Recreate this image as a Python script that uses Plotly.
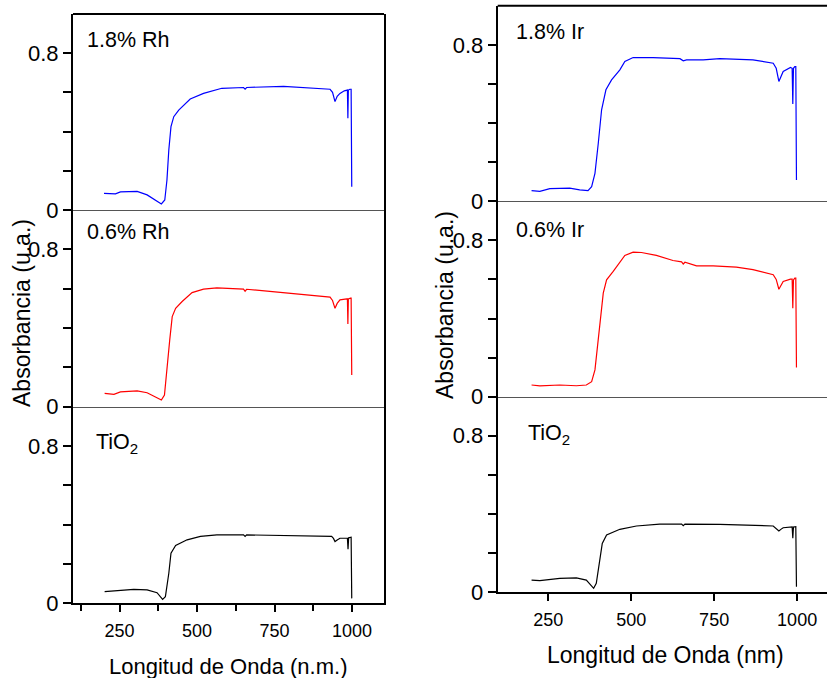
import plotly.graph_objects as go

# ---------------- data ----------------
rh18_wl = [200, 237, 253, 307, 339, 371, 385, 396, 403, 409, 416, 425, 441, 478, 521, 580, 650, 655, 660,
           779, 929, 937, 945, 952, 961, 975, 983, 985, 986.5, 988, 993, 997, 999]
rh18_ab = [0.085, 0.082, 0.092, 0.095, 0.077, 0.042, 0.031, 0.051, 0.153, 0.306, 0.425, 0.476, 0.51, 0.566,
           0.595, 0.621, 0.625, 0.617, 0.625, 0.631, 0.616, 0.60, 0.553, 0.58, 0.595, 0.608, 0.612, 0.612,
           0.468, 0.612, 0.616, 0.616, 0.119]

rh06_wl = [202, 232, 253, 307, 339, 371, 385, 395, 403, 412, 420, 431, 452, 484, 521, 564, 650, 655, 660,
           725, 832, 929, 937, 945, 952, 961, 983, 985, 986.5, 988, 995, 997, 999]
rh06_ab = [0.068, 0.063, 0.075, 0.08, 0.071, 0.048, 0.034, 0.059, 0.204, 0.34, 0.458, 0.50, 0.535, 0.58,
           0.598, 0.604, 0.598, 0.587, 0.597, 0.587, 0.574, 0.557, 0.54, 0.50, 0.525, 0.543, 0.548, 0.548,
           0.42, 0.548, 0.552, 0.552, 0.161]

tio2l_wl = [202, 232, 296, 339, 371, 389, 398, 409, 416, 431, 468, 511, 564, 650, 655, 660, 779, 934, 940,
            945, 952, 961, 985, 987, 989, 995, 997, 999]
tio2l_ab = [0.059, 0.063, 0.071, 0.068, 0.054, 0.020, 0.034, 0.153, 0.255, 0.294, 0.323, 0.34, 0.348, 0.348,
            0.340, 0.348, 0.345, 0.34, 0.33, 0.314, 0.322, 0.331, 0.331, 0.275, 0.333, 0.336, 0.336, 0.025]

ir18_wl = [200, 225, 255, 315, 345, 370, 381, 391, 401, 411, 424, 441, 466, 481, 506, 566, 647, 657, 667,
           717, 767, 867, 928, 937, 945, 952, 958, 980, 985, 987, 989, 993, 996, 998]
ir18_ab = [0.055, 0.051, 0.065, 0.067, 0.058, 0.055, 0.075, 0.143, 0.297, 0.468, 0.57, 0.621, 0.672, 0.715,
           0.735, 0.735, 0.729, 0.718, 0.723, 0.723, 0.729, 0.723, 0.706, 0.68, 0.613, 0.645, 0.664, 0.684,
           0.68, 0.498, 0.68, 0.689, 0.689, 0.109]

ir06_wl = [200, 225, 285, 335, 365, 381, 391, 406, 416, 426, 446, 481, 506, 531, 576, 626, 652, 657, 662,
           697, 747, 817, 867, 928, 937, 945, 952, 958, 980, 985, 987, 989, 993, 996, 998]
ir06_ab = [0.06, 0.055, 0.06, 0.056, 0.06, 0.077, 0.137, 0.376, 0.53, 0.598, 0.641, 0.723, 0.74, 0.738,
           0.723, 0.697, 0.69, 0.679, 0.688, 0.67, 0.67, 0.663, 0.65, 0.624, 0.60, 0.55, 0.575, 0.59, 0.602,
           0.602, 0.453, 0.598, 0.607, 0.607, 0.15]

tio2r_wl = [200, 225, 285, 335, 365, 377, 387, 395, 405, 413, 426, 466, 516, 586, 652, 657, 662, 767, 928,
            937, 945, 952, 958, 985, 987, 989, 993, 996, 998]
tio2r_ab = [0.061, 0.058, 0.07, 0.072, 0.061, 0.039, 0.019, 0.044, 0.164, 0.249, 0.292, 0.321, 0.338, 0.348,
            0.348, 0.34, 0.348, 0.346, 0.338, 0.325, 0.312, 0.322, 0.329, 0.333, 0.275, 0.333, 0.334, 0.334,
            0.027]

for a, b in [(rh18_wl, rh18_ab), (rh06_wl, rh06_ab), (tio2l_wl, tio2l_ab),
             (ir18_wl, ir18_ab), (ir06_wl, ir06_ab), (tio2r_wl, tio2r_ab)]:
    assert len(a) == len(b), (len(a), len(b))

y_tickvals = [0, 0.8]
y_ticktext = ["0", "0.8"]
y_minor = [0.2, 0.4, 0.6]
x_tickvals = [250, 500, 750, 1000]
x_minor_left = [125, 375, 625, 875]

panel_labels_left = ["1.8% Rh", "0.6% Rh", "TiO<sub>2</sub>"]
panel_labels_right = ["1.8% Ir", "0.6% Ir", "TiO<sub>2</sub>"]

# ---------------- layout geometry ----------------
W, H = 827, 678
FONT = "Liberation Sans, Arial, sans-serif"


def px(x):
    return x / W


def py(y):
    return 1 - y / H


left_x = [px(73), px(384)]
right_x = [px(497.7), 1.0]
left_y = [(14, 210), (210, 406.7), (406.7, 603.3)]
right_y = [(5.7, 201.3), (201.3, 396.7), (396.7, 592)]

fig = go.Figure()

series = [
    (rh18_wl, rh18_ab, "#0000ff"),
    (rh06_wl, rh06_ab, "#ff0000"),
    (tio2l_wl, tio2l_ab, "#000000"),
    (ir18_wl, ir18_ab, "#0000ff"),
    (ir06_wl, ir06_ab, "#ff0000"),
    (tio2r_wl, tio2r_ab, "#000000"),
]
for i, (wl, ab, col) in enumerate(series):
    k = "" if i == 0 else str(i + 1)
    fig.add_trace(go.Scatter(x=wl, y=ab, mode="lines", line=dict(color=col, width=1.2),
                             xaxis="x" + k, yaxis="y" + k, showlegend=False, hoverinfo="skip"))

layout = dict(template="none", width=W, height=H, margin=dict(l=0, r=0, t=0, b=0, pad=0),
              paper_bgcolor="white", plot_bgcolor="rgba(0,0,0,0)",
              font=dict(family=FONT, color="black"), showlegend=False)

shapes = []
annotations = []
for i in range(6):
    k = "" if i == 0 else str(i + 1)
    right = i >= 3
    row = i % 3
    xd = right_x if right else left_x
    y0, y1 = (right_y if right else left_y)[row]
    xrange = [98, 1090] if right else [100, 1103]
    ax_x = dict(domain=xd, range=xrange, anchor="y" + k, showgrid=False, zeroline=False,
                automargin=False)
    if row < 2:
        ax_x.update(showline=True, linecolor="#555555", linewidth=1, tickmode="array",
                    tickvals=[], ticks="")
    else:
        ax_x.update(showline=True, linecolor="black", linewidth=2, tickvals=x_tickvals,
                    ticktext=[str(v) for v in x_tickvals],
                    ticks="outside", ticklen=7, tickwidth=1.5, tickcolor="black",
                    tickfont=dict(size=18, family=FONT, color="black"), ticklabelstandoff=3)
        if not right:
            ax_x["minor"] = dict(tickvals=x_minor_left, ticks="outside", ticklen=6,
                                 tickwidth=1.5, tickcolor="black", showgrid=False)
    ax_y = dict(domain=[py(y1), py(y0)], range=[0, 1.0], anchor="x" + k, automargin=False,
                showgrid=False, zeroline=False, showline=True, linecolor="black", linewidth=2,
                mirror=(not right), tickvals=y_tickvals, ticktext=y_ticktext,
                ticks="outside", ticklen=8, tickwidth=1.5, tickcolor="black",
                tickfont=dict(size=22, family=FONT, color="black"),
                minor=dict(tickvals=y_minor, ticks="outside", ticklen=8, tickwidth=1.5,
                           tickcolor="black", showgrid=False))
    layout["xaxis" + k] = ax_x
    layout["yaxis" + k] = ax_y

# top borders
for k in ["", "4"]:
    shapes.append(dict(type="line", xref="x" + k + " domain", yref="y" + k + " domain",
                       x0=0, x1=1, y0=1, y1=1, line=dict(color="black", width=2)))

# panel labels
lab_pos_left = [(86, 40), (86, 232), (95, 443)]
lab_pos_right = [(515, 32), (515, 230), (527, 434)]
for txt, (x, y) in zip(panel_labels_left + panel_labels_right, lab_pos_left + lab_pos_right):
    annotations.append(dict(text=txt, x=px(x), y=py(y), xref="paper", yref="paper",
                            xanchor="left", yanchor="middle", showarrow=False, borderpad=0,
                            font=dict(size=21.5, family=FONT, color="black")))

# axis titles
annotations += [
    dict(text="Longitud de Onda (n.m.)", x=px(228), y=py(666), xref="paper", yref="paper",
         xanchor="center", yanchor="middle", showarrow=False,
         font=dict(size=22, family=FONT, color="black")),
    dict(text="Longitud de Onda (nm)", x=px(665), y=py(655), xref="paper", yref="paper",
         xanchor="center", yanchor="middle", showarrow=False,
         font=dict(size=23, family=FONT, color="black")),
    dict(text="Absorbancia (u.a.)", x=px(22), y=py(313), xref="paper", yref="paper", textangle=-90,
         xanchor="center", yanchor="middle", showarrow=False,
         font=dict(size=23, family=FONT, color="black")),
    dict(text="Absorbancia (u.a.)", x=px(445), y=py(305), xref="paper", yref="paper", textangle=-90,
         xanchor="center", yanchor="middle", showarrow=False,
         font=dict(size=23, family=FONT, color="black")),
]

layout["shapes"] = shapes
layout["annotations"] = annotations
fig.update_layout(**layout)
fig.write_html("out.html", config={"displayModeBar": False},
               post_script="document.body.style.margin='0';document.body.style.padding='0';"
                           "document.body.style.overflow='hidden';")
